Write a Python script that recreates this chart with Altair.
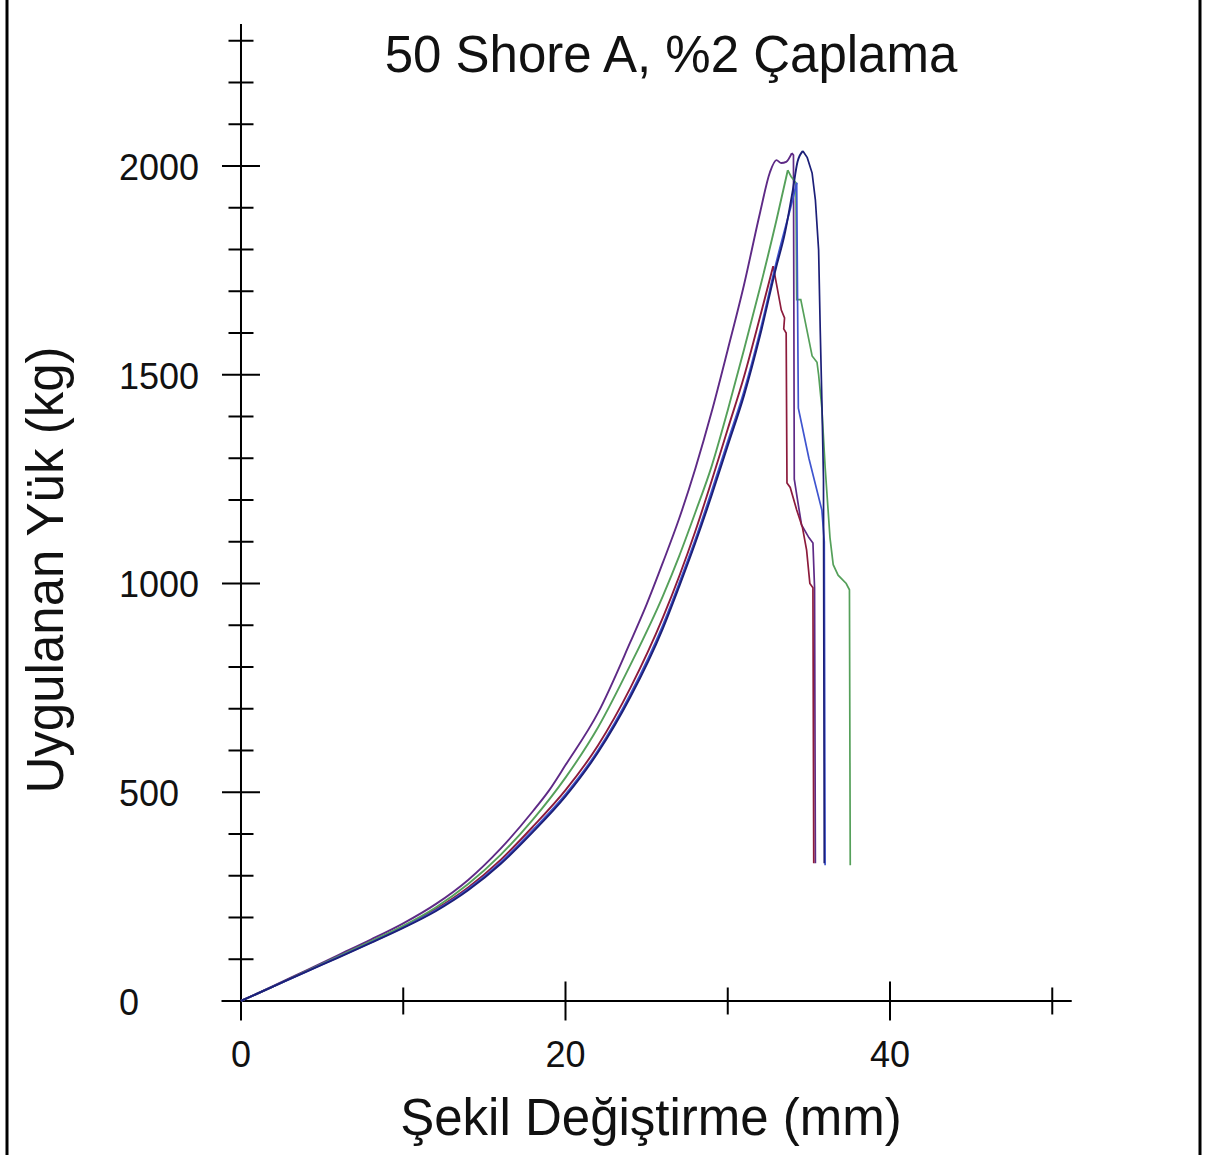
import altair as alt
import pandas as pd

# ---------------- data ----------------
series_names = ["Mor", "Bordo", "Yeşil", "Mavi", "Lacivert"]
series_colors = ["#5e2a86", "#8c1b3c", "#55a05a", "#3f55cf", "#1c1f78"]

purple_x = [0, 2, 4, 6, 8, 10, 12, 14, 16, 18, 19, 20, 22, 24, 25, 26, 27, 28, 29, 30, 31, 32, 32.6,
            33.0, 33.3, 33.6, 33.95, 34.05, 34.1, 34.3, 34.55, 35.0, 35.25, 35.35, 35.4]
purple_y = [0, 36, 73, 110, 147, 186, 232, 290, 365, 455, 505, 565, 690, 860, 950, 1050, 1155, 1275, 1410, 1560,
            1715, 1890, 1985, 2014, 2007, 2010, 2031, 2026, 1250, 1200, 1140, 1110, 1097, 990, 330]

maroon_x = [0, 2, 4, 6, 8, 10, 12, 14, 16, 18, 20, 22, 24, 26, 28, 29, 30, 31, 32, 32.8,
            33.3, 33.5, 33.45, 33.6, 33.65, 33.85, 34.25, 34.6, 34.86, 35.06, 35.25, 35.3]
maroon_y = [0, 35, 71, 106, 142, 178, 220, 272, 338, 418, 505, 612, 750, 918, 1125, 1245, 1370, 1495, 1640, 1760,
            1655, 1636, 1610, 1600, 1241, 1230, 1176, 1135, 1080, 1000, 990, 330]

green_x = [0, 2, 4, 6, 8, 10, 12, 14, 16, 18, 20, 22, 24, 26, 27, 28, 29, 30, 31, 32, 33, 33.7,
           33.9, 34.2, 34.25, 34.5, 35.2, 35.5, 35.6, 35.8, 36.0, 36.3, 36.5, 36.8, 37.3, 37.5, 37.55]
green_y = [0, 35, 71, 107, 143, 180, 224, 280, 350, 435, 535, 655, 805, 970, 1065, 1170, 1280, 1415, 1560,
           1710, 1870, 1990, 1975, 1960, 1680, 1680, 1545, 1530, 1500, 1420, 1280, 1110, 1045, 1020, 1000, 985, 325]

blue_x = [0, 2, 4, 6, 8, 10, 12, 14, 16, 18, 20, 22, 24, 26, 27, 28, 29, 30, 31, 32, 33, 34, 34.25,
          34.35, 35.0, 35.8, 35.95, 36.0]
blue_y = [0, 35, 70, 105, 140, 176, 217, 268, 332, 410, 495, 600, 735, 900, 1000, 1105, 1220, 1340, 1460,
          1605, 1770, 1920, 1960, 1420, 1300, 1176, 1100, 325]

navy_x = [0, 2, 4, 6, 8, 10, 12, 14, 16, 18, 20, 22, 24, 26, 27, 28, 29, 30, 31, 32, 33, 33.5, 34.0, 34.3,
          34.63, 34.9, 35.2, 35.4, 35.6, 35.7, 35.8, 35.9, 35.95]
navy_y = [0, 35, 70, 104, 139, 175, 215, 265, 328, 405, 490, 595, 728, 892, 992, 1097, 1210, 1330, 1450,
          1595, 1760, 1835, 1940, 2010, 2036, 2020, 1983, 1919, 1799, 1607, 1440, 1250, 330]

# axis ticks and labels
x_major_ticks = [0, 20, 40]
x_minor_ticks = [10, 30, 50]
x_tick_labels = ["0", "20", "40"]
y_major_ticks = [0, 500, 1000, 1500, 2000]
y_minor_ticks = [100, 200, 300, 400, 600, 700, 800, 900, 1100, 1200, 1300, 1400,
                 1600, 1700, 1800, 1900, 2100, 2200, 2300]
y_tick_labels = ["0", "500", "1000", "1500", "2000"]

title_text = "50 Shore A, %2 Çaplama"
x_title_text = "Şekil Değiştirme (mm)"
y_title_text = "Uygulanan Yük (kg)"

# axis line extents (data units) and scale domains
X_AXIS_START, X_AXIS_END = -1.2, 51.2
Y_AXIS_END = 2340
X_DOMAIN = [-14.853, 60.03]
Y_DOMAIN = [-368.9, 2397.6]

W, H = 1215, 1155
FONT = "Liberation Sans"

# ---------------- build ----------------
rows = []
for name, xs_, ys_ in [("Mor", purple_x, purple_y), ("Bordo", maroon_x, maroon_y),
                       ("Yeşil", green_x, green_y), ("Mavi", blue_x, blue_y),
                       ("Lacivert", navy_x, navy_y)]:
    peak = ys_.index(max(ys_))
    for i, (a, b) in enumerate(zip(xs_, ys_)):
        if i <= peak:
            rows.append({"series": name, "x": a, "y": b, "i": i, "part": "rise"})
        if i >= peak:
            rows.append({"series": name, "x": a, "y": b, "i": i, "part": "fall"})
df = pd.DataFrame(rows)

xs = alt.Scale(domain=X_DOMAIN, nice=False, zero=False)
ys = alt.Scale(domain=Y_DOMAIN, nice=False, zero=False)

X = lambda f: alt.X(f, type="quantitative", scale=xs, axis=None)
Y = lambda f: alt.Y(f, type="quantitative", scale=ys, axis=None)
COLOR = alt.Color("series:N", scale=alt.Scale(domain=series_names, range=series_colors), legend=None)

base = alt.Chart(df)
rise = base.transform_filter(alt.datum.part == "rise").mark_line(
    strokeWidth=1.9, interpolate="monotone").encode(
    x=X("x"), y=Y("y"), color=COLOR, order=alt.Order("i:Q"))
fall = base.transform_filter(alt.datum.part == "fall").mark_line(
    strokeWidth=1.7).encode(
    x=X("x"), y=Y("y"), color=COLOR, order=alt.Order("i:Q"))

x_axis_line = alt.Chart(pd.DataFrame({"x": [X_AXIS_START], "x2": [X_AXIS_END], "y": [0]})).mark_rule(
    color="black", strokeWidth=2).encode(x=X("x"), x2="x2:Q", y=Y("y"))
y_axis_line = alt.Chart(pd.DataFrame({"x": [0], "y": [0], "y2": [Y_AXIS_END]})).mark_rule(
    color="black", strokeWidth=2).encode(x=X("x"), y=Y("y"), y2="y2:Q")

y_major = alt.Chart(pd.DataFrame({"y": y_major_ticks, "x": 0})).mark_tick(
    orient="horizontal", size=38, thickness=2, color="black", opacity=1).encode(x=X("x"), y=Y("y"))
y_minor = alt.Chart(pd.DataFrame({"y": y_minor_ticks, "x": 0})).mark_tick(
    orient="horizontal", size=25, thickness=2, color="black", opacity=1).encode(x=X("x"), y=Y("y"))
x_major = alt.Chart(pd.DataFrame({"x": x_major_ticks, "y": 0})).mark_tick(
    orient="vertical", size=39, thickness=2, color="black", opacity=1).encode(x=X("x"), y=Y("y"))
x_minor = alt.Chart(pd.DataFrame({"x": x_minor_ticks, "y": 0})).mark_tick(
    orient="vertical", size=27, thickness=2, color="black", opacity=1).encode(x=X("x"), y=Y("y"))

y_labels = alt.Chart(pd.DataFrame({"y": y_major_ticks, "t": y_tick_labels, "x": 0})).mark_text(
    align="left", baseline="alphabetic", dx=-122, dy=14, fontSize=36, font=FONT, color="#111111").encode(
    x=X("x"), y=Y("y"), text="t:N")
x_labels = alt.Chart(pd.DataFrame({"x": x_major_ticks, "t": x_tick_labels, "y": 0})).mark_text(
    align="center", baseline="alphabetic", dy=66, fontSize=36, font=FONT, color="#111111").encode(
    x=X("x"), y=Y("y"), text="t:N")

title = alt.Chart(pd.DataFrame({"t": [title_text]})).mark_text(
    align="center", baseline="alphabetic", fontSize=51, font=FONT, color="#111111").encode(
    x=alt.value(671), y=alt.value(72), text="t:N")
x_title = alt.Chart(pd.DataFrame({"t": [x_title_text]})).mark_text(
    align="center", baseline="alphabetic", fontSize=51, font=FONT, color="#111111").encode(
    x=alt.value(651), y=alt.value(1135), text="t:N")
y_title = alt.Chart(pd.DataFrame({"t": [y_title_text]})).mark_text(
    align="center", baseline="alphabetic", angle=270, fontSize=51, font=FONT, color="#111111").encode(
    x=alt.value(63), y=alt.value(570), text="t:N")

frame_left = alt.Chart(pd.DataFrame({"a": [0]})).mark_rule(color="black", strokeWidth=3).encode(
    x=alt.value(7), y=alt.value(0), y2=alt.value(H))
frame_right = alt.Chart(pd.DataFrame({"a": [0]})).mark_rule(color="black", strokeWidth=3).encode(
    x=alt.value(1200), y=alt.value(0), y2=alt.value(H))

chart = alt.layer(
    x_axis_line, y_axis_line, y_major, y_minor, x_major, x_minor,
    fall, rise, y_labels, x_labels, title, x_title, y_title, frame_left, frame_right,
).properties(
    width=W, height=H, autosize=alt.AutoSizeParams(type="none"), padding=0, background="white",
).configure_view(stroke=None)

chart.save("out.html", embed_options={"renderer": "svg", "actions": False})
